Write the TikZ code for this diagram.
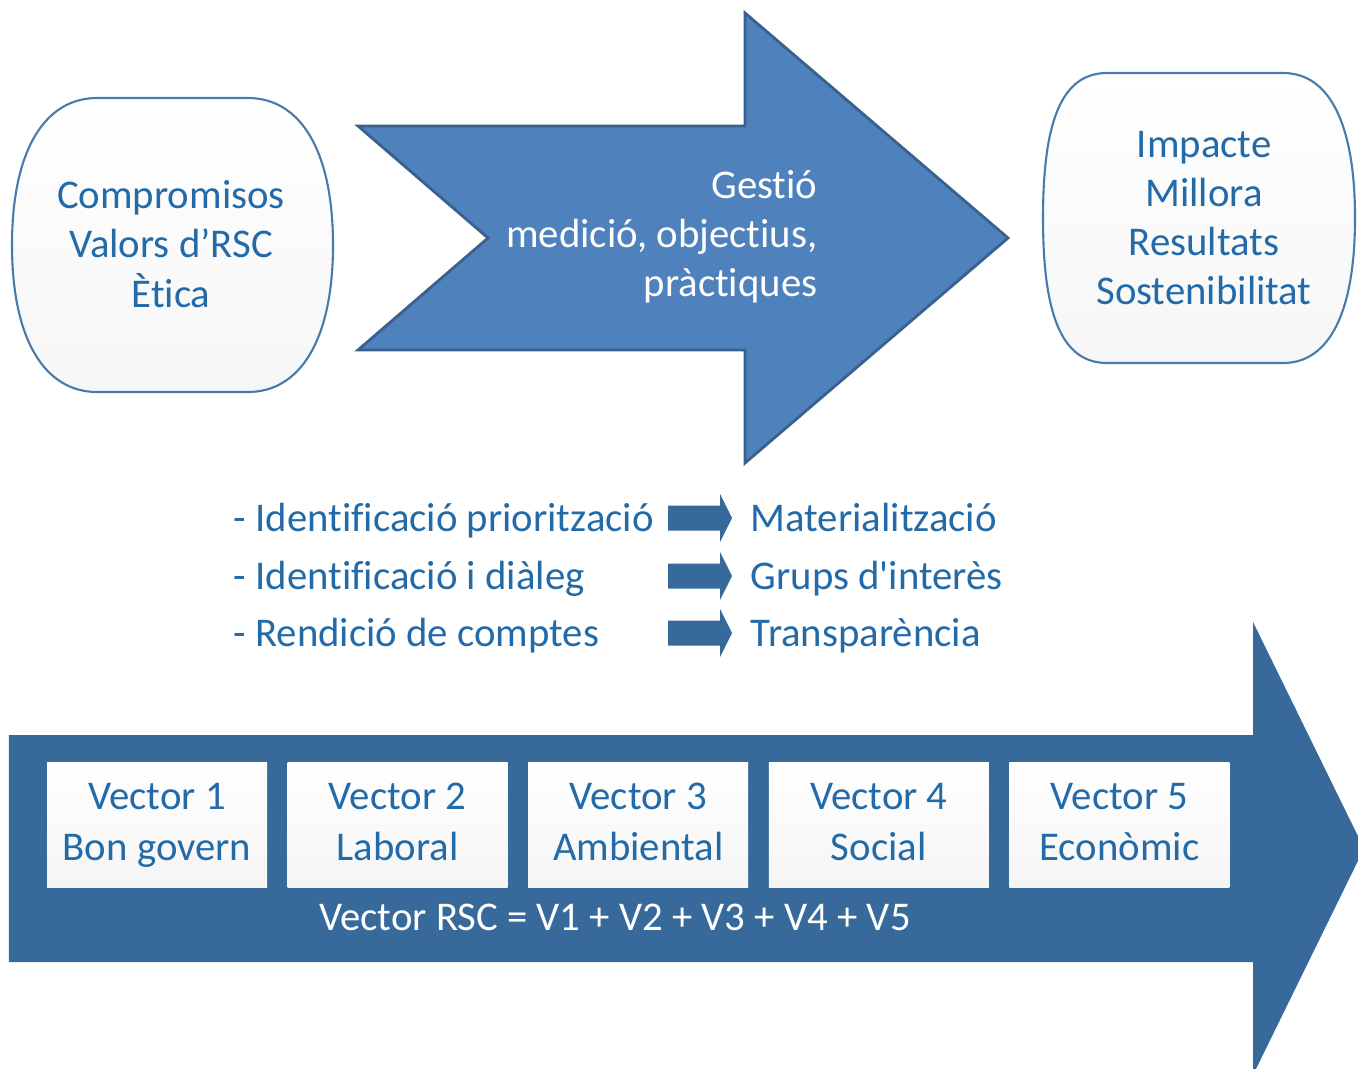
\documentclass[tikz,border=0pt]{standalone}
\usepackage{fontspec}
\setmainfont{Carlito}[Ligatures={TeX,NoCommon}]
\definecolor{arrowblue}{RGB}{79,129,189}
\definecolor{arrowedge}{RGB}{58,96,142}
\definecolor{bandblue}{RGB}{55,106,155}
\definecolor{txtblue}{RGB}{34,106,168}
\definecolor{boxedge}{RGB}{72,122,170}

\begin{document}
\begin{tikzpicture}[x=1cm, y=-1cm,
  txt/.style={font=\fontsize{11.6}{14}\selectfont, inner sep=0pt},
  linetxt/.style={txt, text height=0.36cm, text depth=0.09cm},
  bluetxt/.style={text=txtblue},
  whitetxt/.style={text=white},
  softbox/.style={draw=boxedge, line width=0.6pt, top color=white, bottom color=gray!7},
  vecbox/.style={txt, bluetxt, align=center, top color=white, bottom color=gray!8,
    minimum width=2.2cm, minimum height=1.25cm, font=\fontsize{11.6}{14.3}\selectfont}
]
\clip (0,0) rectangle (13.58,10.68);

% top row: commitments -> management -> impact
\draw[softbox] (0.97,0.98) -- (2.48,0.98) .. controls (3.00,0.98) and (3.33,1.50) .. (3.33,2.45)
  .. controls (3.33,3.40) and (3.00,3.92) .. (2.48,3.92) -- (0.97,3.92)
  .. controls (0.45,3.92) and (0.12,3.40) .. (0.12,2.45)
  .. controls (0.12,1.50) and (0.45,0.98) .. (0.97,0.98) -- cycle;
\node[txt, bluetxt, align=center] (commit) at (1.71,2.44) {Compromisos\\Valors d’RSC\\Ètica};

\draw[fill=arrowblue, draw=arrowedge, line width=0.8pt] (3.58,1.26) -- (7.45,1.26) -- (7.45,0.13)
  -- (10.08,2.38) -- (7.45,4.63) -- (7.45,3.50) -- (3.58,3.50) -- (4.88,2.38) -- cycle;
\node[txt, whitetxt, align=right, anchor=east] (gestio) at (8.18,2.37) {Gestió\\medició, objectius,\\pràctiques};

\draw[softbox] (11.07,0.73) -- (12.83,0.73) .. controls (13.30,0.73) and (13.55,1.25) .. (13.55,2.18)
  .. controls (13.55,3.11) and (13.30,3.63) .. (12.83,3.63) -- (11.07,3.63)
  .. controls (10.60,3.63) and (10.43,3.11) .. (10.43,2.18)
  .. controls (10.43,1.25) and (10.60,0.73) .. (11.07,0.73) -- cycle;
\node[txt, bluetxt, align=center] (impact) at (12.04,2.18) {Impacte\\Millora\\Resultats\\Sostenibilitat};

% middle: three small arrows
\foreach \y/\from/\to [count=\i] in {5.18/{- Identificació priorització}/{Materialització},
    5.76/{- Identificació i diàleg}/{Grups d\textquotesingle{}interès},
    6.33/{- Rendició de comptes}/{Transparència}} {
  \node[linetxt, bluetxt, anchor=west] (from\i) at (2.33,\y) {\from};
  \fill[bandblue] (6.68,\y-0.125) -- (7.20,\y-0.125) -- (7.20,\y-0.24) -- (7.32,\y)
    -- (7.20,\y+0.24) -- (7.20,\y+0.125) -- (6.68,\y+0.125) -- cycle;
  \node[linetxt, bluetxt, anchor=west] (to\i) at (7.50,\y) {\to};
}

% bottom band
\fill[bandblue] (0.09,7.35) -- (12.53,7.35) -- (12.53,6.22) -- (13.64,8.485)
  -- (12.53,10.75) -- (12.53,9.62) -- (0.09,9.62) -- cycle;
\foreach \lbl [count=\i] in {Bon govern, Laboral, Ambiental, Social, Econòmic}
  \node[vecbox] (vec\i) at (1.57+2.406*\i-2.406, 8.25) {Vector \i\strut\\\lbl\strut};
\node[linetxt, whitetxt] (vsum) at (6.15,9.17) {Vector RSC = V1 + V2 + V3 + V4 + V5};

\end{tikzpicture}
\end{document}
